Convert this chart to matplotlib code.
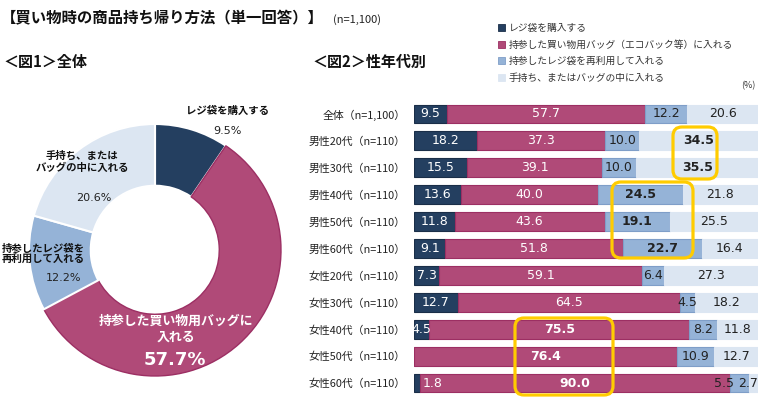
import matplotlib
matplotlib.use("Agg")
import matplotlib.pyplot as plt
from matplotlib.patches import Patch, FancyBboxPatch
from matplotlib.transforms import IdentityTransform

plt.rcParams['font.family'] = ['Noto Sans CJK JP', 'DejaVu Sans']

# data
answers = ["レジ袋を購入する",
           "持参した買い物用バッグ（エコバック等）に入れる",
           "持参したレジ袋を再利用して入れる",
           "手持ち、またはバッグの中に入れる"]
total_share = [9.5, 57.7, 12.2, 20.6]

groups = ["全体（n=1,100）",
          "男性20代（n=110）", "男性30代（n=110）", "男性40代（n=110）",
          "男性50代（n=110）", "男性60代（n=110）",
          "女性20代（n=110）", "女性30代（n=110）", "女性40代（n=110）",
          "女性50代（n=110）", "女性60代（n=110）"]
buy_bag = [9.5, 18.2, 15.5, 13.6, 11.8, 9.1, 7.3, 12.7, 4.5, 0.0, 1.8]
eco_bag = [57.7, 37.3, 39.1, 40.0, 43.6, 51.8, 59.1, 64.5, 75.5, 76.4, 90.0]
reuse_bag = [12.2, 10.0, 10.0, 24.5, 19.1, 22.7, 6.4, 4.5, 8.2, 10.9, 5.5]
by_hand = [20.6, 34.5, 35.5, 21.8, 25.5, 16.4, 27.3, 18.2, 11.8, 12.7, 2.7]

colors = ['#243F60', '#B04A78', '#95B3D7', '#DCE6F2']
edges = ['#1A2E48', '#9C2F63', '#7F9EC8', '#DCE6F2']

W, H = 760, 407
fig = plt.figure(figsize=(W / 100, H / 100), dpi=100)


def px(x, y):
    return x / W, 1 - y / H


# titles
fig.text(*px(1, 18), "【買い物時の商品持ち帰り方法（単一回答）】", fontsize=11.1,
         fontweight='bold', va='center', ha='left', color='#111')
fig.text(*px(333, 20), "(n=1,100)", fontsize=8, va='center', ha='left', color='#222')
fig.text(*px(3, 62), "＜図1＞全体", fontsize=10.8, fontweight='bold', va='center', color='#111')
fig.text(*px(312, 62), "＜図2＞性年代別", fontsize=10.8, fontweight='bold', va='center', color='#111')
fig.text(*px(748, 86), "(%)", fontsize=6.5, va='center', ha='center', color='#333')

# legend
handles = [Patch(facecolor=c, edgecolor=e, linewidth=0.6) for c, e in zip(colors, edges)]
fig.legend(handles, answers, loc='upper left', bbox_to_anchor=px(498, 23),
           frameon=False, fontsize=7, handlelength=0.7, handleheight=0.7,
           handletextpad=0.4, labelspacing=0.68, borderpad=0, borderaxespad=0,
           labelcolor='#333')

# donut
r_px = 126
lim = 1.04
ax1 = fig.add_axes([(155 - r_px * lim) / W, 1 - (250 + r_px * lim) / H,
                    2 * r_px * lim / W, 2 * r_px * lim / H])
wedges, _ = ax1.pie(total_share, colors=colors, startangle=90, counterclock=False,
                    wedgeprops=dict(width=0.49, edgecolor='white', linewidth=1.5))
wedges[1].set_edgecolor('#9C2F63')
wedges[1].set_linewidth(1.0)
ax1.set_xlim(-lim, lim)
ax1.set_ylim(-lim, lim)
ax1.set_aspect('equal')
ax1.axis('off')

fig.text(*px(227, 111), "レジ袋を購入する", fontsize=7.5, fontweight='bold', ha='center', va='center', color='#111')
fig.text(*px(227, 131), "9.5%", fontsize=8, ha='center', va='center', color='#222', family='DejaVu Sans')
fig.text(*px(82, 162), "手持ち、または\nバッグの中に入れる", fontsize=7.5, fontweight='bold',
         ha='center', va='center', color='#111', linespacing=1.25)
fig.text(*px(94, 198), "20.6%", fontsize=8, ha='center', va='center', color='#222', family='DejaVu Sans')
fig.text(*px(85, 254), "持参したレジ袋を\n再利用して入れる", fontsize=7.5, fontweight='bold',
         ha='right', va='center', color='#111', linespacing=1.25)
fig.text(*px(81, 278), "12.2%", fontsize=8, ha='right', va='center', color='#222', family='DejaVu Sans')
fig.text(*px(176, 329), "持参した買い物用バッグに\n入れる", fontsize=9.3, fontweight='bold',
         ha='center', va='center', color='white', linespacing=1.2)
fig.text(*px(175, 360), "57.7%", fontsize=13, fontweight='bold', ha='center', va='center',
         color='white', family='DejaVu Sans')

# stacked bars
ax2 = fig.add_axes([414 / W, 1 - 396.5 / H, (758 - 414) / W, (396.5 - 100.5) / H])
series = [buy_bag, eco_bag, reuse_bag, by_hand]
ys = list(range(len(groups)))
left = [0.0] * len(groups)
bold_cells = {(1, 3), (2, 3), (3, 2), (4, 2), (5, 2), (8, 1), (9, 1), (10, 1)}
for k, vals in enumerate(series):
    ax2.barh(ys, vals, left=left, height=0.7, color=colors[k], edgecolor=edges[k], linewidth=0.8)
    for i, v in enumerate(vals):
        if v == 0:
            continue
        x = left[i] + v / 2
        ha = 'center'
        tc = 'white' if k < 2 else '#222'
        if i == 10 and k == 0:
            x = left[i] + v + 0.8
            ha = 'left'
        if i == 10 and k == 2:
            x = left[i] - 1.8
        if i == 10 and k == 3:
            x = 100.0
            ha = 'right'
        fw = 'bold' if (i, k) in bold_cells else 'normal'
        ax2.text(x, i, f"{v:.1f}", ha=ha, va='center', fontsize=9, color=tc,
                 fontweight=fw, family='DejaVu Sans')
    left = [a + b for a, b in zip(left, vals)]

ax2.set_xlim(0, 100)
ax2.set_ylim(len(groups) - 0.5, -0.5)
ax2.set_yticks(ys)
ax2.set_yticklabels(groups, fontsize=7.8, color='#222')
ax2.tick_params(axis='y', length=0, pad=6)
ax2.set_xticks([])
for s in ax2.spines.values():
    s.set_visible(False)

# yellow highlight boxes (pixel coords, top-left origin)
boxes = [(673, 127, 717, 179), (612, 182, 693, 258), (515, 318, 613, 395)]
for x0, y0, x1, y1 in boxes:
    fig.patches.append(FancyBboxPatch((x0, H - y1), x1 - x0, y1 - y0,
                                      boxstyle="round,pad=0,rounding_size=9",
                                      fill=False, edgecolor='#FFCC00', linewidth=2.3,
                                      transform=IdentityTransform(), figure=fig, zorder=10))

fig.savefig("out.png", dpi=100)
